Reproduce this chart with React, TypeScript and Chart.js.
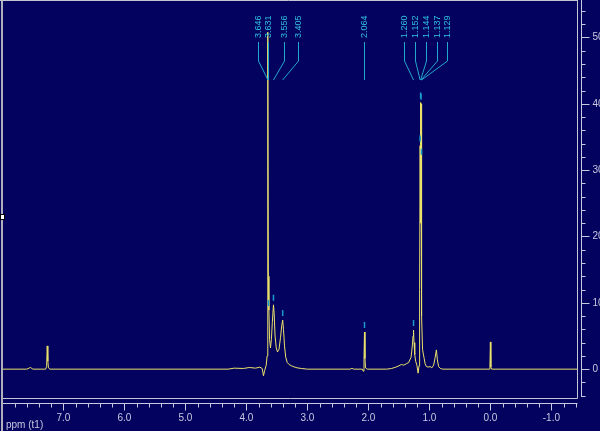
import React, { useEffect, useRef } from 'react';
import { Chart, registerables } from 'chart.js';

Chart.register(...registerables);

// ---- spectrum (ppm, intensity) ----
const specPpm = [
  7.99, 7.6, 7.54, 7.5, 7.29, 7.275, 7.265, 7.255, 7.245, 7.22,
  4.3, 4.2, 4.05, 3.95, 3.85, 3.78, 3.74, 3.72, 3.7, 3.675, 3.66,
  3.652, 3.646, 3.64, 3.631, 3.62, 3.605, 3.59, 3.575, 3.556, 3.545,
  3.53, 3.51, 3.49, 3.465, 3.44, 3.42, 3.405, 3.392, 3.375, 3.355,
  3.33, 3.3, 3.26, 3.22, 3.17, 3.1, 3.0,
  2.3, 2.27, 2.24, 2.1, 2.085, 2.072, 2.064, 2.056, 2.046, 2.02,
  1.7, 1.62, 1.55, 1.5, 1.46, 1.42, 1.38, 1.34, 1.3, 1.28, 1.268,
  1.26, 1.252, 1.24, 1.225, 1.205, 1.185, 1.17, 1.16, 1.152, 1.148,
  1.144, 1.14, 1.137, 1.133, 1.129, 1.122, 1.112, 1.1, 1.085, 1.07,
  1.05, 1.02, 0.99, 0.96, 0.93, 0.905, 0.885, 0.87, 0.85, 0.82, 0.78,
  0.02, 0.008, 0.0, -0.008, -0.02, -1.42,
];
const specIntensity = [
  0, 0, 0.25, 0, 0, 0.4, 3.5, 1.2, 0.2, 0,
  0, 0.15, 0.1, 0.25, 0.15, 0.3, 0.1, -1.0, -0.2, 0.6, 2.0,
  27, 50.8, 14, 8.9, 4.5, 3.2, 4.5, 7.0, 9.7, 8.5,
  5.0, 3.2, 2.6, 3.0, 4.8, 6.6, 7.4, 6.0, 3.5, 1.8,
  1.0, 0.7, 0.5, 0.35, 0.2, 0.1, 0,
  0, 0.12, 0, 0, -0.3, 1.5, 5.6, 1.6, 0.2, 0,
  0, 0.1, 0.3, 0.5, 0.7, 0.6, 0.8, 1.0, 1.8, 3.5, 5.0,
  5.9, 4.0, 2.2, 1.2, 0.6, -0.6, 0.5, 12, 33.7, 22,
  40.2, 30, 40.0, 20, 31.7, 8, 3.0, 2.3, 1.6, 0.8,
  0.4, 0.3, 0.4, 0.2, 0.6, 1.8, 2.9, 1.5, 0.4, 0.1, 0,
  0, 0.3, 4.1, 0.3, 0, 0,
];

// ---- peak annotations ----
const peakLabels = ['3.646', '3.631', '3.556', '3.405', '2.064', '1.260', '1.152', '1.144', '1.137', '1.129'];
const peakPpm = [3.646, 3.631, 3.556, 3.405, 2.064, 1.26, 1.152, 1.144, 1.137, 1.129];
const labelAnchorPpm = [3.807, 3.643, 3.384, 3.154, 2.064, 1.416, 1.23, 1.057, 0.88, 0.705];

// ---- axes ----
const xMajorTicks = [7, 6, 5, 4, 3, 2, 1, 0, -1];
const xTickLabels = ['7.0', '6.0', '5.0', '4.0', '3.0', '2.0', '1.0', '0.0', '-1.0'];
const yMajorTicks = [0, 10, 20, 30, 40, 50];
const yTickLabels = ['0', '10', '20', '30', '40', '50'];
const xAxisTitle = 'ppm (t1)';

const X_MIN = -1.42;
const X_MAX = 7.99;
const Y_MIN = -4.35;
const Y_MAX = 55.5;

const BG = '#03035f';
const FRAME = '#c4c4d4';
const AXIS = '#c8c8e0';
const CYAN_TXT = '#30c0e0';
const CYAN_LINE = '#22a8cc';
const SPEC = '#ece26a';

const decorPlugin = {
  id: 'nmrDecor',
  beforeDraw(chart: any) {
    const { ctx, width, height } = chart;
    ctx.save();
    ctx.fillStyle = BG;
    ctx.fillRect(0, 0, width, height);
    ctx.restore();
  },
  afterDatasetsDraw(chart: any) {
    const { ctx, height, chartArea: ca } = chart;
    const xs = chart.scales.x;
    const ys = chart.scales.y;
    ctx.save();

    // frame
    ctx.fillStyle = '#b0b0bc';
    ctx.fillRect(1, 0, 2, height);
    ctx.strokeStyle = FRAME;
    ctx.lineWidth = 1;
    ctx.beginPath();
    ctx.moveTo(0, 0.5);
    ctx.lineTo(Math.round(ca.right) + 0.5, 0.5);
    ctx.moveTo(Math.round(ca.right) + 0.5, 0);
    ctx.lineTo(Math.round(ca.right) + 0.5, Math.round(ca.bottom) + 0.5);
    ctx.moveTo(3, Math.round(ca.bottom) + 0.5);
    ctx.lineTo(Math.round(ca.right) + 0.5, Math.round(ca.bottom) + 0.5);
    ctx.stroke();

    // handle square on the left edge
    ctx.fillStyle = '#ffffff';
    ctx.fillRect(0, 215, 4, 4);
    ctx.strokeStyle = '#000000';
    ctx.strokeRect(0.5, 214.5, 4, 5);

    // bottom (ppm) axis
    const axY = Math.round(ca.bottom) + 5.5;
    ctx.strokeStyle = AXIS;
    ctx.beginPath();
    ctx.moveTo(3, axY);
    ctx.lineTo(Math.round(ca.right) + 0.5, axY);
    const kMin = Math.ceil(X_MIN / 0.2 - 1e-6);
    const kMax = Math.floor(X_MAX / 0.2 + 1e-6);
    for (let k = kMin; k <= kMax; k++) {
      const v = k * 0.2;
      const px = Math.round(xs.getPixelForValue(v)) + 0.5;
      const major = Math.abs(v - Math.round(v)) < 1e-6;
      ctx.moveTo(px, axY);
      ctx.lineTo(px, axY + (major ? 7 : 4));
    }
    ctx.stroke();
    ctx.fillStyle = AXIS;
    ctx.font = "10px 'Liberation Sans', Arial, sans-serif";
    ctx.textAlign = 'center';
    ctx.textBaseline = 'middle';
    xMajorTicks.forEach((v, i) => {
      ctx.fillText(xTickLabels[i], xs.getPixelForValue(v), 418);
    });
    ctx.textAlign = 'left';
    ctx.fillText(xAxisTitle, 6, 425);

    // right (intensity) axis
    const axX = Math.round(ca.right) + 4.5;
    ctx.beginPath();
    ctx.moveTo(axX, 0);
    ctx.lineTo(axX, Math.round(ys.getPixelForValue(-4)) + 1);
    for (let v = Math.ceil(Y_MIN / 2) * 2; v <= Y_MAX; v += 2) {
      const py = Math.round(ys.getPixelForValue(v)) + 0.5;
      const major = v % 10 === 0;
      ctx.moveTo(axX, py);
      ctx.lineTo(axX + (major ? 8 : 4), py);
    }
    ctx.stroke();
    ctx.textAlign = 'left';
    yMajorTicks.forEach((v, i) => {
      ctx.fillText(yTickLabels[i], axX + 11, ys.getPixelForValue(v));
    });

    // peak labels with leader lines
    ctx.strokeStyle = CYAN_LINE;
    ctx.lineWidth = 1;
    ctx.font = "9px 'Liberation Sans', Arial, sans-serif";
    peakPpm.forEach((p, i) => {
      const lx = Math.round(xs.getPixelForValue(labelAnchorPpm[i])) + 0.5;
      let tx = xs.getPixelForValue(p);
      if (Math.abs(tx - lx) < 1.5) tx = lx;
      ctx.beginPath();
      ctx.moveTo(lx, 42);
      ctx.lineTo(lx, 61);
      ctx.lineTo(tx, 80);
      ctx.stroke();
      ctx.save();
      ctx.translate(lx + 0.5, 38);
      ctx.rotate(-Math.PI / 2);
      ctx.fillStyle = CYAN_TXT;
      ctx.textAlign = 'left';
      ctx.textBaseline = 'middle';
      ctx.fillText(peakLabels[i], 0, 0);
      ctx.restore();

      // peak-pick marker above the peak top
      const idx = specPpm.indexOf(p);
      if (idx >= 0) {
        const py = ys.getPixelForValue(specIntensity[idx]);
        if (py - 10 > 85) {
          ctx.save();
          ctx.strokeStyle = '#1a9ad0';
          ctx.lineWidth = 1.5;
          ctx.beginPath();
          ctx.moveTo(tx, py - 10);
          ctx.lineTo(tx, py - 4);
          ctx.stroke();
          ctx.restore();
        }
      }
    });

    ctx.restore();
  },
};

export default function App() {
  const ref = useRef<HTMLCanvasElement | null>(null);

  useEffect(() => {
    document.body.style.margin = '0';
    document.body.style.overflow = 'hidden';
    const canvas = ref.current;
    if (!canvas) return;
    const chart = new Chart(canvas, {
      type: 'line',
      data: {
        datasets: [
          {
            data: specPpm.map((p, i) => ({ x: p, y: specIntensity[i] })),
            borderColor: SPEC,
            borderWidth: 1,
            pointRadius: 0,
            tension: 0,
            fill: false,
          },
        ],
      },
      options: {
        responsive: false,
        animation: false,
        devicePixelRatio: 1,
        events: [],
        layout: { padding: { left: 3, right: 23, top: 1, bottom: 33 } },
        scales: {
          x: { type: 'linear', min: X_MIN, max: X_MAX, reverse: true, display: false },
          y: { type: 'linear', min: Y_MIN, max: Y_MAX, display: false },
        },
        plugins: { legend: { display: false }, tooltip: { enabled: false } },
      },
      plugins: [decorPlugin],
    } as any);
    return () => chart.destroy();
  }, []);

  return (
    <div style={{ position: 'fixed', left: 0, top: 0, width: 600, height: 431, background: BG }}>
      <canvas ref={ref} width={600} height={431} style={{ width: 600, height: 431, display: 'block' }} />
    </div>
  );
}
